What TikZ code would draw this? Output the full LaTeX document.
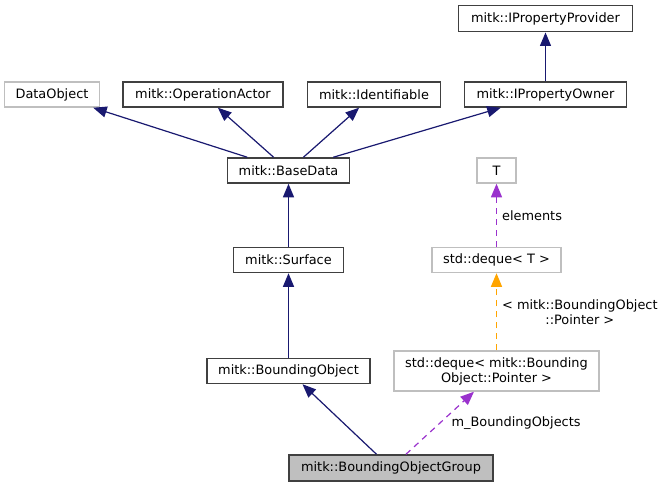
\documentclass[tikz,border=0pt]{standalone}
\usepackage{fontspec}
\setmainfont{DejaVu Sans}
\usetikzlibrary{arrows.meta}
\definecolor{edgeblue}{HTML}{191970}
\definecolor{edgepurple}{HTML}{9A32CD}
\definecolor{edgeorange}{HTML}{FFA500}
\definecolor{boxgray}{HTML}{BFBFBF}
\definecolor{boxdark}{HTML}{404040}
\tikzset{
  cls/.style={draw=boxdark, line width=1.5pt, fill=white, inner sep=0pt, minimum height=25pt, font=\fontsize{12.9}{15}\selectfont},
  ext/.style={draw=boxgray, line width=1.5pt, fill=white, inner sep=0pt, minimum height=25pt, font=\fontsize{12.9}{15}\selectfont},
  cur/.style={draw=boxdark, line width=1.5pt, fill=boxgray, inner sep=0pt, minimum height=26pt, font=\fontsize{12.9}{15}\selectfont},
  inherit/.style={draw=edgeblue, line width=1.2pt, -{Triangle[length=13.5pt,width=11pt]}},
  usage/.style={draw=edgepurple, line width=1.2pt, dash pattern=on 6pt off 5pt, -{Triangle[length=13.5pt,width=11pt]}},
  tmpl/.style={draw=edgeorange, line width=1.2pt, dash pattern=on 6pt off 5pt, -{Triangle[length=13.5pt,width=11pt]}},
  elabel/.style={inner sep=0pt, font=\fontsize{12.9}{15}\selectfont, align=center}
}
\begin{document}
\begin{tikzpicture}[x=1pt,y=-1pt]
\useasboundingbox (0,0) rectangle (663,487);
\node[cls, minimum width=174pt, minimum height=26pt] (IPP) at (545.5,18.7) {mitk::IPropertyProvider};
\node[ext, minimum width=95pt] (DO) at (52,94.5) {DataObject};
\node[cls, minimum width=160pt] (OA) at (203,94.5) {mitk::OperationActor};
\node[cls, minimum width=133pt] (ID) at (374,94.5) {mitk::Identifiable};
\node[cls, minimum width=162pt] (IPO) at (545.5,94.5) {mitk::IPropertyOwner};
\node[cls, minimum width=122pt] (BD) at (288.5,170.5) {mitk::BaseData};
\node[ext, minimum width=39pt] (T) at (496.5,170.5) {T};
\node[cls, minimum width=110pt] (SF) at (288.5,260) {mitk::Surface};
\node[ext, minimum width=129pt] (DT) at (496.5,260) {std::deque< T >};
\node[cls, minimum width=163pt] (BO) at (288.5,371) {mitk::BoundingObject};
\node[ext, minimum width=205pt, minimum height=40pt, align=center] (DBO) at (496.5,371) {std::deque< mitk::Bounding\\Object::Pointer >};
\node[cur, minimum width=204pt] (BOG) at (391,468) {mitk::BoundingObjectGroup};

\draw[inherit] (IPO) -- (IPP);
\draw[inherit] (BD) -- (DO);
\draw[inherit] (BD) -- (OA);
\draw[inherit] (BD) -- (ID);
\draw[inherit] (BD) -- (IPO);
\draw[inherit] (SF) -- (BD);
\draw[inherit] (BO) -- (SF);
\draw[inherit] (BOG) -- (BO);
\draw[usage] (BOG) -- node[elabel, midway, anchor=west, xshift=11pt] (L1) {m\_BoundingObjects} (DBO);
\draw[tmpl] (DBO) -- node[elabel, midway, anchor=west, xshift=5pt] (L2) {< mitk::BoundingObject\\::Pointer >} (DT);
\draw[usage] (DT) -- node[elabel, midway, anchor=west, xshift=5pt] (L3) {elements} (T);
\end{tikzpicture}
\end{document}
